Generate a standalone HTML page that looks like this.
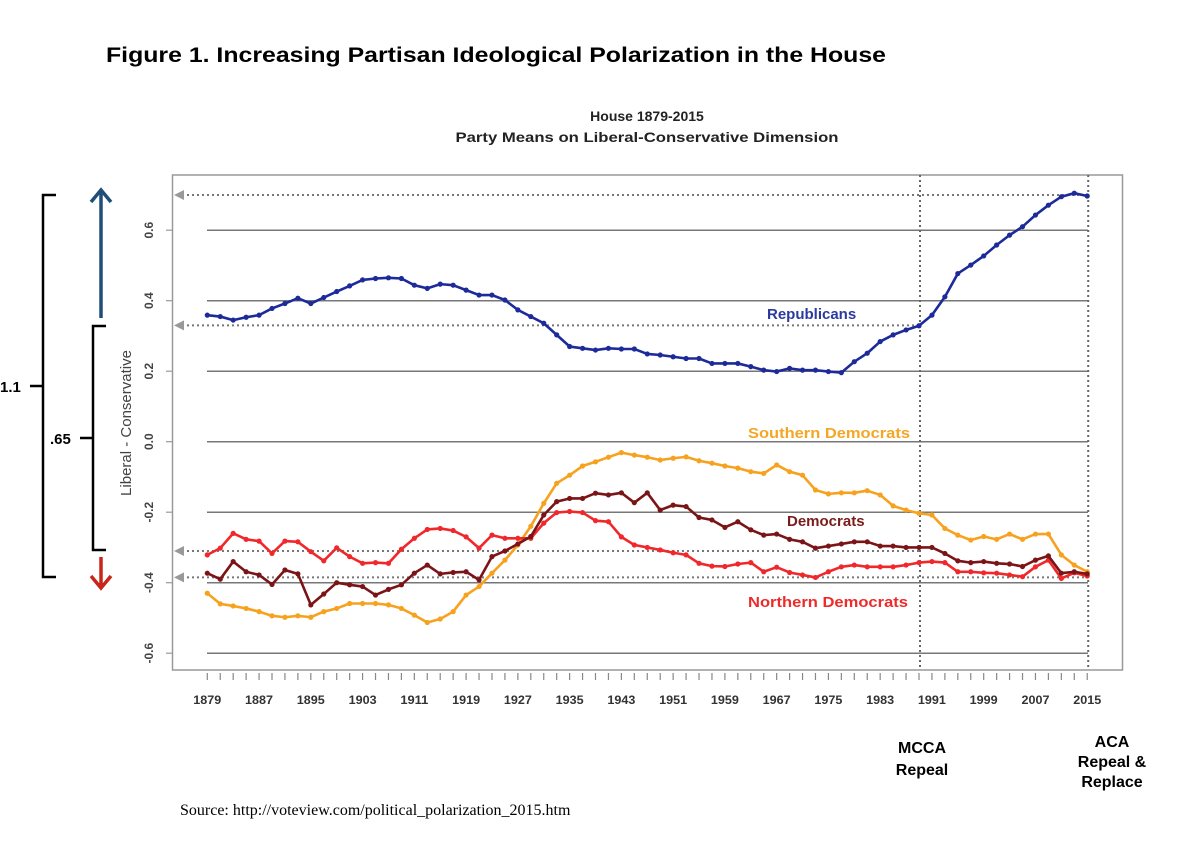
<!DOCTYPE html>
<html><head><meta charset="utf-8"><style>
html,body{margin:0;padding:0;background:#fff;}
svg{display:block;font-family:"Liberation Sans",Arial,sans-serif;}
</style></head><body>
<svg id="chart" width="1200" height="845" viewBox="0 0 1200 845" xmlns="http://www.w3.org/2000/svg">
<text x="106" y="62" font-size="21" font-weight="bold" fill="#000" textLength="780" lengthAdjust="spacingAndGlyphs">Figure 1.  Increasing Partisan Ideological Polarization in the House</text>
<text x="647" y="121" font-size="14" font-weight="bold" fill="#222" text-anchor="middle">House 1879-2015</text>
<text x="647" y="142" font-size="14" font-weight="bold" fill="#222" text-anchor="middle" textLength="383" lengthAdjust="spacingAndGlyphs">Party Means on Liberal-Conservative Dimension</text>
<rect x="172.5" y="175" width="950" height="495" fill="none" stroke="#999" stroke-width="1.5"/>
<g id="grid"></g><g id="ref"></g><g id="series"></g><g id="axes"></g>
<text transform="translate(131,423) rotate(-90)" font-size="15" fill="#444" text-anchor="middle">Liberal - Conservative</text>
<text x="767" y="319" font-size="15" font-weight="bold" fill="#2b3aa0">Republicans</text>
<text x="748" y="438" font-size="15" font-weight="bold" fill="#f5a623" textLength="162" lengthAdjust="spacingAndGlyphs">Southern Democrats</text>
<text x="787" y="526" font-size="15" font-weight="bold" fill="#7a1c1c">Democrats</text>
<text x="748" y="607" font-size="15" font-weight="bold" fill="#ee2b2b" textLength="160" lengthAdjust="spacingAndGlyphs">Northern Democrats</text>
<g stroke="#000" stroke-width="2.5" fill="none"><path d="M56,195 H43 V577 H56 M43,386 H30"/></g>
<text x="0" y="392" font-size="15" font-weight="bold">1.1</text>
<g stroke="#000" stroke-width="2.5" fill="none"><path d="M106,326 H93 V550 H106 M93,438 H80"/></g>
<text x="50" y="444" font-size="15" font-weight="bold">.65</text>
<g stroke="#1f4e79" stroke-width="3.5" fill="none"><path d="M101,318 V190 M91,202 L101,190 L111,202"/></g>
<g stroke="#c8261b" stroke-width="3.5" fill="none"><path d="M101,557 V588 M91,576 L101,588 L111,576"/></g>
<text x="922" y="753" font-size="16" font-weight="bold" text-anchor="middle">MCCA</text>
<text x="922" y="775" font-size="16" font-weight="bold" text-anchor="middle">Repeal</text>
<text x="1112" y="747" font-size="16" font-weight="bold" text-anchor="middle">ACA</text>
<text x="1112" y="767" font-size="16" font-weight="bold" text-anchor="middle">Repeal &amp;</text>
<text x="1112" y="787" font-size="16" font-weight="bold" text-anchor="middle">Replace</text>
<text x="180" y="815" font-size="16" font-family="'Liberation Serif',serif">Source: http://voteview.com/political_polarization_2015.htm</text>
</svg>
<script>
const startYear = 1879;
const republicans = [.359,.355,.345,.353,.359,.378,.392,.407,.392,.409,.426,.442,.459,.463,.465,.463,.444,.435,.447,.444,.430,.416,.416,.402,.374,.355,.336,.303,.270,.265,.260,.265,.263,.263,.249,.246,.241,.236,.236,.222,.222,.222,.213,.203,.199,.208,.203,.203,.199,.196,.227,.251,.284,.303,.317,.329,.359,.411,.477,.501,.527,.558,.586,.610,.643,.671,.695,.705,.697];
const southernDems = [-.430,-.460,-.466,-.473,-.482,-.494,-.498,-.494,-.498,-.482,-.473,-.459,-.459,-.459,-.463,-.473,-.492,-.513,-.503,-.482,-.435,-.411,-.373,-.336,-.293,-.240,-.175,-.118,-.095,-.069,-.057,-.044,-.031,-.038,-.044,-.052,-.047,-.043,-.054,-.061,-.069,-.075,-.085,-.090,-.066,-.085,-.095,-.137,-.148,-.145,-.145,-.139,-.151,-.182,-.194,-.203,-.208,-.246,-.265,-.279,-.269,-.277,-.262,-.277,-.262,-.262,-.321,-.350,-.369];
const democrats = [-.373,-.390,-.340,-.369,-.378,-.405,-.364,-.375,-.463,-.432,-.400,-.406,-.411,-.435,-.419,-.406,-.373,-.350,-.375,-.371,-.369,-.392,-.326,-.310,-.290,-.269,-.208,-.170,-.161,-.161,-.146,-.151,-.145,-.173,-.145,-.194,-.180,-.184,-.215,-.222,-.243,-.227,-.250,-.265,-.262,-.277,-.284,-.302,-.296,-.290,-.284,-.284,-.296,-.296,-.300,-.300,-.300,-.317,-.338,-.343,-.340,-.345,-.347,-.354,-.336,-.324,-.373,-.369,-.375];
const northernDems = [-.321,-.302,-.260,-.277,-.282,-.317,-.282,-.284,-.312,-.338,-.301,-.326,-.345,-.343,-.345,-.305,-.274,-.249,-.246,-.252,-.270,-.302,-.265,-.274,-.274,-.274,-.231,-.201,-.198,-.201,-.224,-.227,-.270,-.293,-.300,-.307,-.315,-.321,-.345,-.353,-.354,-.347,-.343,-.369,-.356,-.371,-.378,-.385,-.369,-.355,-.350,-.355,-.355,-.355,-.350,-.343,-.340,-.343,-.369,-.369,-.372,-.373,-.378,-.383,-.355,-.336,-.388,-.372,-.381];
const yTicks = [0.6,0.4,0.2,0.0,-0.2,-0.4,-0.6];
const yTickLabels = ["0.6","0.4","0.2","0.0","-0.2","-0.4","-0.6"];
const xTickYears = [1879,1887,1895,1903,1911,1919,1927,1935,1943,1951,1959,1967,1975,1983,1991,1999,2007,2015];
const refLevels = [0.70,0.33,-0.31,-0.385];
const refEndYears = [2015,1989,1989,2015];
const eventYears = [1989,2015];

const NS="http://www.w3.org/2000/svg";
function X(year){return 207.3+(year-1879)/2*12.94;}
function Y(v){return 441.7-v*352.5;}
function mk(tag,attrs,parent){const e=document.createElementNS(NS,tag);for(const k in attrs)e.setAttribute(k,attrs[k]);parent.appendChild(e);return e;}
const grid=document.getElementById('grid'),ref=document.getElementById('ref'),ser=document.getElementById('series'),axes=document.getElementById('axes');

yTicks.forEach((v,i)=>{
  const g=mk('line',{x1:207,x2:1088,y1:Y(v),y2:Y(v),stroke:'#777','stroke-width':1.5},grid);
  
  
  const t=mk('line',{x1:166,x2:172,y1:Y(v),y2:Y(v),stroke:'#999','stroke-width':1.2},axes);
  
  
  const l=mk('text',{transform:`translate(153,${Y(v)}) rotate(-90)`,'font-size':12,'font-weight':'bold',fill:'#444','text-anchor':'middle'},axes);
  l.textContent=yTickLabels[i];
  
  
});
for(let yr=startYear;yr<=2015;yr+=2){
  const t=mk('line',{x1:X(yr),x2:X(yr),y1:673,y2:680,stroke:'#888','stroke-width':1.2},axes);
  
  
}
xTickYears.forEach(yr=>{
  const l=mk('text',{x:X(yr),y:704,'font-size':11.5,'font-weight':'bold',fill:'#333','text-anchor':'middle',textLength:28,lengthAdjust:'spacingAndGlyphs'},axes);
  l.textContent=yr;
  
  
});
eventYears.forEach(yr=>{
  const e=mk('line',{x1:X(yr)+1,x2:X(yr)+1,y1:175,y2:670,stroke:'#666','stroke-width':2,'stroke-dasharray':'2 3'},ref);
  
  
});
refLevels.forEach((v,i)=>{
  const e=mk('line',{x1:182,x2:X(refEndYears[i])+1,y1:Y(v),y2:Y(v),stroke:'#777','stroke-width':2,'stroke-dasharray':'2 3'},ref);
  
  
  const a=mk('path',{d:`M174,${Y(v)} L184,${Y(v)-5} L184,${Y(v)+5} Z`,fill:'#999'},ref);
  
  
});
function drawSeries(vals,color,name){
  const pts=vals.map((v,i)=>[X(startYear+2*i),Y(v)]);
  const p=mk('polyline',{points:pts.map(p=>p.join(',')).join(' '),fill:'none',stroke:color,'stroke-width':2.6,'stroke-linejoin':'round'},ser);
  
  
  pts.forEach(q=>{
    const c=mk('circle',{cx:q[0],cy:q[1],r:2.6,fill:color},ser);
    
    
  });
}
drawSeries(southernDems,'#f7a21e','southern-democrats');
drawSeries(northernDems,'#f0282b','northern-democrats');
drawSeries(democrats,'#7b1416','democrats');
drawSeries(republicans,'#1c2a9a','republicans');
</script>
</body></html>
